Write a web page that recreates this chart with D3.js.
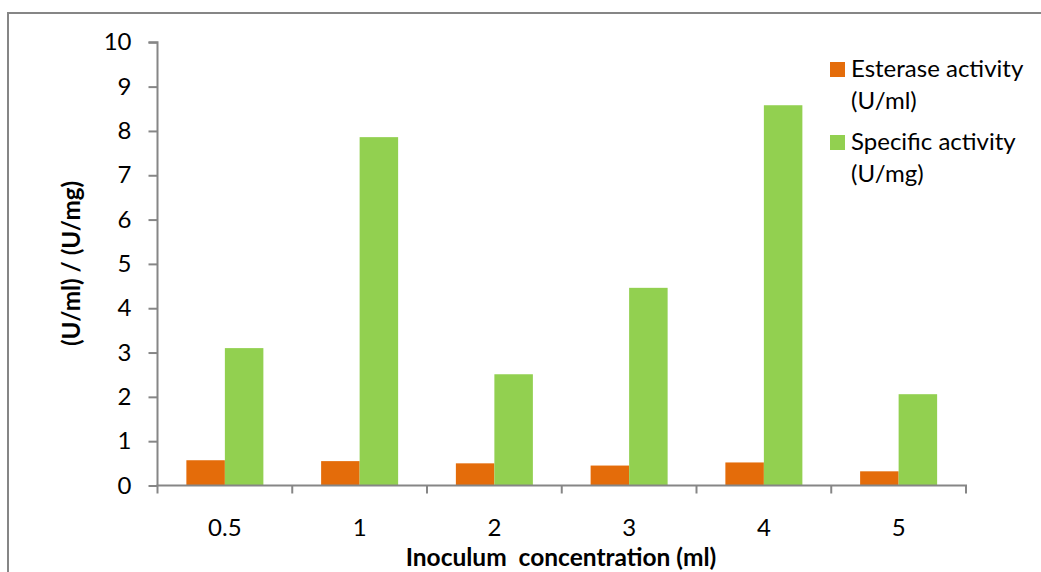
<!DOCTYPE html>
<html>
<head>
<meta charset="utf-8">
<script src="https://cdn.jsdelivr.net/npm/d3@7"></script>
<style>
  html, body { margin: 0; padding: 0; background: #fff; }
  svg { display: block; font-family: Lato, "Open Sans", sans-serif; }
</style>
</head>
<body>
<svg id="chart" width="1041" height="572"></svg>
<script>
// Inoculum concentrations (ml)
const categories = ["0.5", "1", "2", "3", "4", "5"];
// Esterase activity (U/ml)
const esterase = [0.57, 0.55, 0.50, 0.45, 0.52, 0.32];
// Specific activity (U/mg)
const specific = [3.10, 7.86, 2.51, 4.46, 8.58, 2.06];
const seriesNames = [["Esterase activity", "(U/ml)"], ["Specific activity", "(U/mg)"]];
const yTicks = [0, 1, 2, 3, 4, 5, 6, 7, 8, 9, 10];

const colors = ["#E46C0A", "#92D050"];
const axisColor = "#868686";
const fontSize = 24;

const svg = d3.select("#chart");

// outer chart frame
svg.append("rect")
  .attr("x", 8).attr("y", 13)
  .attr("width", 1100).attr("height", 700)
  .attr("fill", "none").attr("stroke", axisColor).attr("stroke-width", 2);

const plotLeft = 157.5, plotRight = 966, plotTop = 42.3, plotBottom = 485.5;

const x = d3.scaleBand().domain(categories).range([plotLeft, plotRight]).paddingInner(0).paddingOuter(0);
const y = d3.scaleLinear().domain([0, 10]).range([plotBottom, plotTop]);

// inner grouping: two bars take 2/3.5 of each band
const inner = d3.scaleBand().domain([0, 1])
  .range([0, x.bandwidth()])
  .paddingInner(0).paddingOuter(0.75);

const series = [esterase, specific];
series.forEach((vals, si) => {
  svg.append("g").selectAll("rect")
    .data(vals)
    .join("rect")
    .attr("x", (d, i) => x(categories[i]) + inner(si))
    .attr("width", inner.bandwidth())
    .attr("y", d => y(d))
    .attr("height", d => y(0) - y(d))
    .attr("fill", colors[si]);
});

// y axis
const yAxis = d3.axisLeft(y).tickValues(yTicks).tickSize(9).tickPadding(17).tickFormat(d3.format("d"));
const gy = svg.append("g").attr("transform", `translate(${plotLeft},0)`).call(yAxis);
gy.select(".domain").attr("stroke", axisColor).attr("stroke-width", 2).attr("d", `M-9,${plotTop}H0V${plotBottom}`);
gy.selectAll(".tick line").attr("stroke", axisColor).attr("stroke-width", 2);
gy.selectAll(".tick text").attr("font-size", fontSize).attr("fill", "#000").attr("font-family", "Lato, sans-serif");

// x axis: ticks at band boundaries
const gx = svg.append("g").attr("transform", `translate(0,${plotBottom})`);
gx.append("line").attr("x1", plotLeft - 1).attr("x2", plotRight + 1).attr("y1", 0).attr("y2", 0)
  .attr("stroke", axisColor).attr("stroke-width", 2);
const edges = categories.map(c => x(c)).concat([plotRight]);
gx.selectAll("line.tk").data(edges).join("line").attr("class", "tk")
  .attr("x1", d => d).attr("x2", d => d).attr("y1", 0).attr("y2", 8)
  .attr("stroke", axisColor).attr("stroke-width", 2);
gx.selectAll("text").data(categories).join("text")
  .attr("x", d => x(d) + x.bandwidth() / 2)
  .attr("y", 50.5)
  .attr("text-anchor", "middle")
  .attr("font-size", fontSize)
  .text(d => d);

// axis titles
svg.append("text")
  .attr("x", 561).attr("y", 566)
  .attr("text-anchor", "middle")
  .attr("font-size", 24.5).attr("font-weight", "bold")
  .style("white-space", "pre")
  .text("Inoculum  concentration (ml)");

svg.append("text")
  .attr("transform", "translate(80,263.5) rotate(-90)")
  .attr("text-anchor", "middle")
  .attr("font-size", 24.2).attr("font-weight", "bold")
  .text("(U/ml) / (U/mg)");

// legend
const legend = svg.append("g");
seriesNames.forEach((lines, i) => {
  const g = legend.append("g").attr("transform", `translate(830,${62 + i * 73})`);
  g.append("rect").attr("width", 15).attr("height", 15).attr("fill", colors[i]);
  lines.forEach((t, j) => {
    g.append("text").attr("x", 21).attr("y", 15 + j * 32)
      .attr("font-size", fontSize).text(t);
  });
});
</script>
</body>
</html>
